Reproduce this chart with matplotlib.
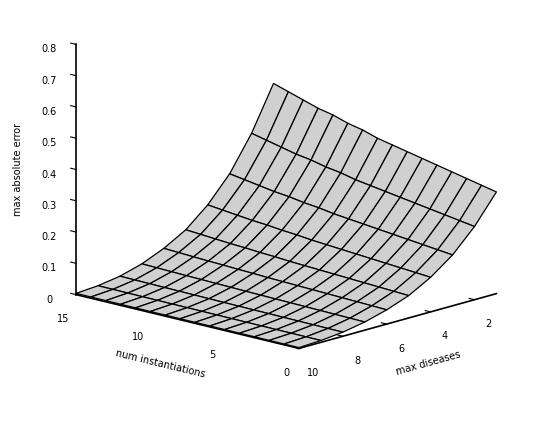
import numpy as np
import matplotlib
matplotlib.use("Agg")
import matplotlib.pyplot as plt

num_inst = np.arange(0, 16)
max_dis = np.arange(1, 11)
dis_profile = [0.50, 0.36, 0.25, 0.17, 0.11, 0.07, 0.04, 0.02, 0.009, 0.004]
inst_factor = [0.65, 0.67, 0.69, 0.71, 0.73, 0.75, 0.77, 0.79, 0.81, 0.84, 0.86, 0.89, 0.91, 0.94, 0.97, 1.00]
Z = np.outer(dis_profile, inst_factor)

X, Y = np.meshgrid(num_inst, max_dis)
fig = plt.figure(figsize=(5.54, 4.28), dpi=100)
ax = fig.add_axes([-0.12, 0.03, 1.25, 1.12], projection='3d', proj_type='ortho')
ax.plot_surface(X, Y, Z, color='#d0d0d0', edgecolor='black', linewidth=0.9, shade=False)
ax.set_xlim(0, 15); ax.set_ylim(1, 10); ax.set_zlim(0, 0.8)
ax.set_xticks([0, 5, 10, 15]); ax.set_yticks([2, 4, 6, 8, 10])
ax.set_zticks(np.arange(0, 0.81, 0.1))
ax.set_zticklabels(['0'] + ['%.1f' % v for v in np.arange(0.1, 0.81, 0.1)])
ax.view_init(elev=15, azim=133)
ax.set_box_aspect((1.0, 0.95, 0.85))
ax.zaxis._axinfo['juggled'] = (1, 2, 0)
for a in (ax.xaxis, ax.yaxis, ax.zaxis):
    a.pane.fill = False
    a.pane.set_edgecolor('white')
    a._axinfo['grid']['linewidth'] = 0
    a._axinfo['tick']['inward_factor'] = 0.0
    a._axinfo['tick']['outward_factor'] = 0.3
    a.line.set_linewidth(1.2)
ax.grid(False)
ax.tick_params(labelsize=7)
ax.set_xlabel('num instantiations', fontsize=7)
ax.set_ylabel('max diseases', fontsize=7)
ax.set_zlabel('max absolute error', fontsize=7)
fig.savefig('out.png', dpi=100, facecolor='white')
